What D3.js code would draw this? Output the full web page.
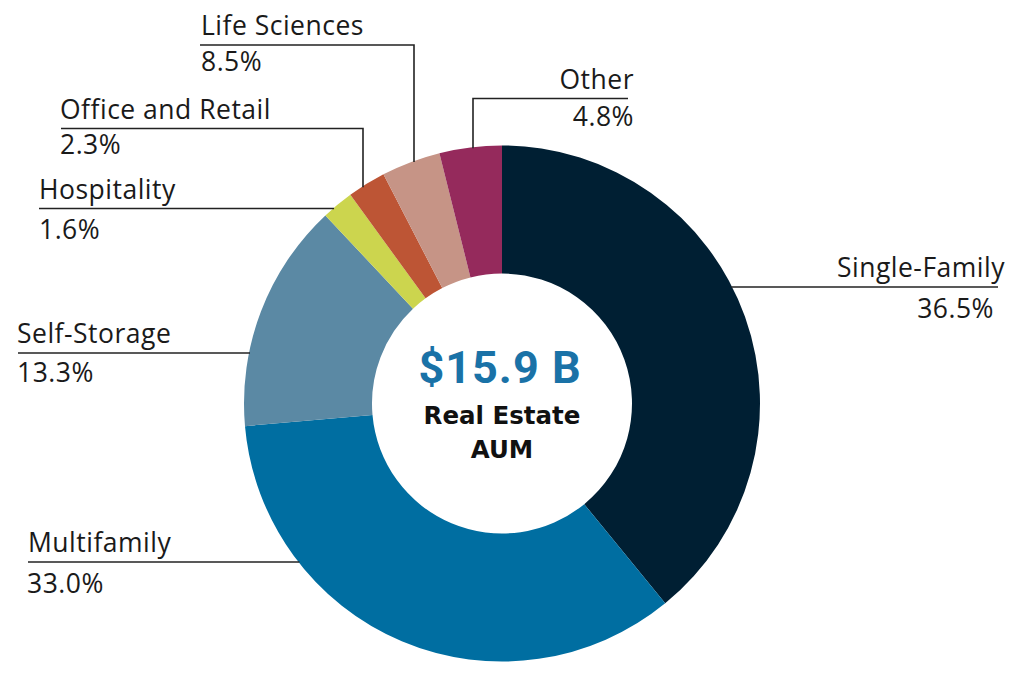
<!DOCTYPE html>
<html>
<head>
<meta charset="utf-8">
<script src="https://cdn.jsdelivr.net/npm/d3@7"></script>
<style>
  html, body { margin: 0; padding: 0; background: #fff; }
  svg { display: block; }
</style>
</head>
<body>
<svg></svg>
<script>
const categories = ['Single-Family', 'Multifamily', 'Self-Storage', 'Hospitality', 'Office and Retail', 'Life Sciences', 'Other'];
// slice sizes as drawn in the picture (share of the ring, %)
const shares = [39.1, 34.5, 14.4, 2.0, 2.4, 3.7, 3.9];
// percentages as printed on the labels
const pctLabels = ['36.5%', '33.0%', '13.3%', '1.6%', '2.3%', '8.5%', '4.8%'];
const colors = ['#001f33', '#006ea1', '#5b89a4', '#ccd54e', '#bd5535', '#c69486', '#952a5c'];
const totalLabel = '$15.9 B';
const centerLines = ['Real Estate', 'AUM'];

const width = 1024;
const height = 684;
const cx = 502, cy = 403.5;
const outerR = 258, innerR = 130;

// where each leader line sits
const layout = {
    'Single-Family':     { lineY: 287, lineEnd: 998, textX: 1005, pctX: 994, anchor: 'end', pctDy: 31 },
    'Multifamily':       { lineY: 562, lineEnd: 28, textX: 28, pctX: 27, anchor: 'start', pctDy: 31 },
    'Self-Storage':      { lineY: 353, lineEnd: 18, textX: 17, pctX: 17, anchor: 'start', pctDy: 29 },
    'Hospitality':       { lineY: 208.5, lineEnd: 39, textX: 39, pctX: 39, anchor: 'start', pctDy: 30 },
    'Office and Retail': { lineY: 128.5, lineEnd: 61, textX: 60, pctX: 60, anchor: 'start', pctDy: 25, elbowX: 363 },
    'Life Sciences':     { lineY: 45, lineEnd: 200, textX: 201, pctX: 201, anchor: 'start', pctDy: 26, elbowX: 414 },
    'Other':             { lineY: 98.5, lineEnd: 628, textX: 634, pctX: 634, anchor: 'end', pctDy: 27, elbowX: 473 }
};

const svg = d3.select('svg')
    .attr('width', width)
    .attr('height', height);

const g = svg.append('g')
    .attr('transform', `translate(${cx}, ${cy})`);

const pie = d3.pie().sort(null).value(d => d.value);
const arc = d3.arc().innerRadius(innerR).outerRadius(outerR);

const data = categories.map((c, i) => ({ name: c, value: shares[i], pct: pctLabels[i], color: colors[i] }));
const arcs = pie(data);

g.selectAll('path')
    .data(arcs)
    .enter()
    .append('path')
    .attr('d', arc)
    .attr('fill', d => d.data.color);

// leader lines + labels
const lines = svg.append('g');
arcs.forEach(d => {
    const l = layout[d.data.name];
    let pts;
    if (l.elbowX !== undefined) {
        const yEdge = cy - Math.sqrt(outerR * outerR - (l.elbowX - cx) ** 2);
        pts = [[l.lineEnd, l.lineY], [l.elbowX, l.lineY], [l.elbowX, yEdge + 1]];
    } else {
        const dx = Math.sqrt(outerR * outerR - (l.lineY - cy) ** 2);
        const xEdge = l.anchor === 'end' ? cx + dx - 1 : cx - dx + 1;
        pts = [[l.lineEnd, l.lineY], [xEdge, l.lineY]];
    }
    lines.append('path')
        .attr('d', d3.line()(pts))
        .attr('fill', 'none')
        .attr('stroke', '#222')
        .attr('stroke-width', 1.6);

    lines.append('text')
        .attr('x', l.textX)
        .attr('y', l.lineY - 10)
        .attr('text-anchor', l.anchor)
        .attr('font-family', 'Open Sans, sans-serif')
        .attr('font-size', 26.5)
        .attr('letter-spacing', 0.5)
        .attr('fill', '#1a1a1a')
        .text(d.data.name);

    lines.append('text')
        .attr('x', l.pctX)
        .attr('y', l.lineY + l.pctDy)
        .attr('text-anchor', l.anchor)
        .attr('font-family', 'Open Sans, sans-serif')
        .attr('font-size', 26.5)
        .attr('letter-spacing', 0.5)
        .attr('fill', '#1a1a1a')
        .text(d.data.pct);
});

// center text
const center = svg.append('g').attr('text-anchor', 'middle');
center.append('text')
    .attr('x', cx - 2)
    .attr('y', 383)
    .attr('font-family', 'Roboto, sans-serif')
    .attr('font-weight', 700)
    .attr('font-size', 45)
    .attr('letter-spacing', 1)
    .attr('fill', '#1a72a7')
    .text(totalLabel);

center.selectAll('.sub')
    .data(centerLines)
    .enter()
    .append('text')
    .attr('class', 'sub')
    .attr('x', cx)
    .attr('y', (d, i) => 424 + i * 34)
    .attr('font-family', 'DejaVu Sans, sans-serif')
    .attr('font-weight', 700)
    .attr('font-size', 24.5)
    .attr('fill', '#111')
    .text(d => d);
</script>
</body>
</html>
